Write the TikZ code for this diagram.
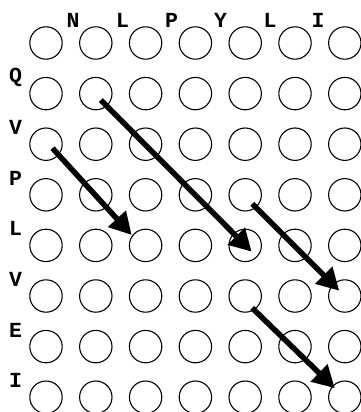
\documentclass[tikz,border=0pt]{standalone}
\usepackage{fontspec}
\newfontfamily\labfont{Liberation Mono}
\usetikzlibrary{arrows.meta}
\begin{document}
\begin{tikzpicture}[x=1pt,y=-1pt,
  dot/.style={circle,draw=black,line width=1.1pt,minimum size=32.4pt,inner sep=0pt},
  lab/.style={inner sep=0pt,font=\labfont\bfseries,scale=2.15},
  arr/.style={line width=5.5pt,-{Triangle[length=22pt,width=23pt]}}]
\useasboundingbox (0,0) rectangle (361,412);
\foreach \r in {1,...,8}{
  \foreach \c in {1,...,7}{
    \node[dot] (c-\r-\c) at ({46+49.8*(\c-1)},{43+50.6*(\r-1)}) {};
  }
}
% column labels
\node[lab] (t1) at (73,20) {N};
\node[lab] (t2) at (122.5,20) {L};
\node[lab] (t3) at (171.5,20) {P};
\node[lab] (t4) at (220.5,20) {Y};
\node[lab] (t5) at (270,20) {L};
\node[lab] (t6) at (318,20) {I};
% row labels
\node[lab] (r2) at (15.5,{43+50.6*1-16.5}) {Q};
\node[lab] (r3) at (15.5,{43+50.6*2-16.5}) {V};
\node[lab] (r4) at (15.5,{43+50.6*3-16.5}) {P};
\node[lab] (r5) at (15.5,{43+50.6*4-16.5}) {L};
\node[lab] (r6) at (15.5,{43+50.6*5-16.5}) {V};
\node[lab] (r7) at (15.5,{43+50.6*6-16.5}) {E};
\node[lab] (r8) at (15.5,{43+50.6*7-16.5}) {I};
% arrows
\draw[arr] ([shift={(5,6.4)}]c-2-2.center) -- ([shift={(6.5,6.3)}]c-5-5.center);
\draw[arr] ([shift={(6.5,4)}]c-3-1.center) -- ([shift={(-13.9,-10.4)}]c-5-3.center);
\draw[arr] ([shift={(7,9)}]c-4-5.center) -- ([shift={(-5.5,-5.3)}]c-6-7.center);
\draw[arr] ([shift={(7,12)}]c-6-5.center) -- ([shift={(-10,-9)}]c-8-7.center);
\end{tikzpicture}
\end{document}
